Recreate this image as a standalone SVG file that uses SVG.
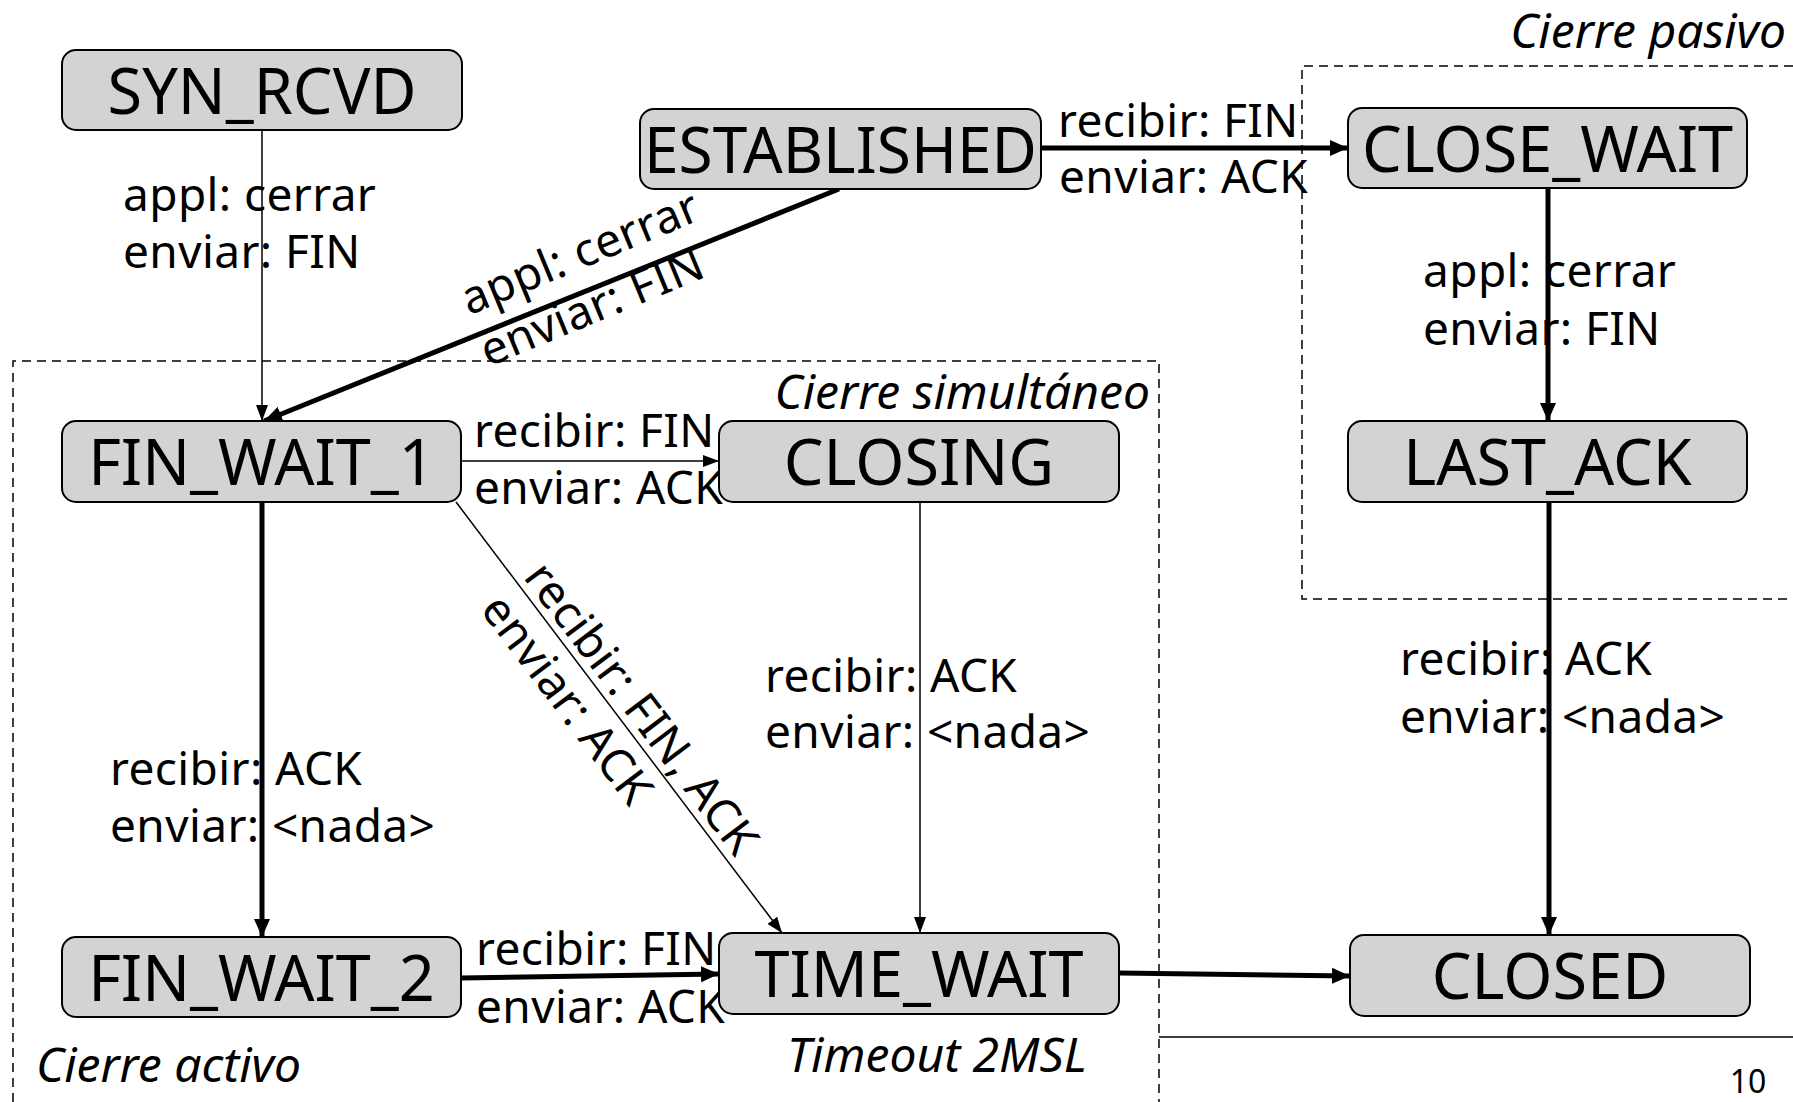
<svg xmlns="http://www.w3.org/2000/svg" width="1793" height="1102" viewBox="0 0 1793 1102">
<style>
  .box { fill: #d3d3d3; stroke: #000; stroke-width: 2; }
  .ntxt { font-family: "Noto Sans", "Open Sans", sans-serif; font-size: 63px; text-anchor: middle; fill: #000; }
  .lbl { font-family: "Noto Sans", "Open Sans", sans-serif; font-size: 46px; letter-spacing: 0.4px; fill: #000; }
  .ital { font-family: "Noto Sans", "Open Sans", sans-serif; font-size: 48px; font-style: italic; fill: #000; }
  .thick { stroke: #000; stroke-width: 5; fill: none; marker-end: url(#ahThick); }
  .thin { stroke: #000; stroke-width: 1.5; fill: none; marker-end: url(#ahThin); }
  .dash { stroke: #000; stroke-width: 1.5; fill: none; stroke-dasharray: 9 6; }
</style>
<defs>
  <marker id="ahThick" markerUnits="userSpaceOnUse" markerWidth="18" markerHeight="16" refX="18" refY="8" orient="auto">
    <path d="M0,0 L18,8 L0,16 z" fill="#000"/>
  </marker>
  <marker id="ahThin" markerUnits="userSpaceOnUse" markerWidth="16" markerHeight="12" refX="16" refY="6" orient="auto">
    <path d="M0,0 L16,6 L0,12 z" fill="#000"/>
  </marker>
</defs>
<rect width="1793" height="1102" fill="#fff"/>

<g id="regions">
  <path class="dash" d="M13,1102 V361 H1159 V1102"/>
  <path class="dash" d="M1793,66 H1302 V599 H1793"/>
  <line x1="1159" y1="1037" x2="1793" y2="1037" stroke="#000" stroke-width="1.5"/>
  <text class="ital" x="1786" y="48" text-anchor="end">Cierre pasivo</text>
  <text class="ital" x="1150" y="409" text-anchor="end">Cierre simultáneo</text>
  <text class="ital" x="36" y="1082">Cierre activo</text>
  <text class="ital" x="787" y="1072">Timeout 2MSL</text>
  <text x="1748" y="1093" text-anchor="middle" font-family="Noto Sans, sans-serif" font-size="32">10</text>
</g>

<g id="connectors">
  <line class="thin" x1="262" y1="130" x2="262" y2="421"/>
  <line class="thick" x1="839" y1="189" x2="264" y2="421"/>
  <line class="thick" x1="1041" y1="148" x2="1348" y2="148"/>
  <line class="thick" x1="1548" y1="188" x2="1548" y2="421"/>
  <line class="thin" x1="461" y1="461" x2="719" y2="461"/>
  <line class="thick" x1="262" y1="502" x2="262" y2="937"/>
  <line class="thin" x1="456" y1="502" x2="782" y2="933"/>
  <line class="thin" x1="920" y1="502" x2="920" y2="933"/>
  <line class="thick" x1="1549" y1="502" x2="1549" y2="935"/>
  <line class="thick" x1="461" y1="978" x2="719" y2="974"/>
  <line class="thick" x1="1119" y1="973" x2="1350" y2="976"/>

  <text class="lbl" x="123" y="211">appl: cerrar</text>
  <text class="lbl" x="123" y="268">enviar: FIN</text>

  <g transform="translate(477,335) rotate(-22.5)">
    <text class="lbl" x="0" y="-21">appl: cerrar</text>
    <text class="lbl" x="-2" y="34">enviar: FIN</text>
  </g>

  <text class="lbl" x="1058" y="137">recibir: FIN</text>
  <text class="lbl" x="1059" y="193">enviar: ACK</text>

  <text class="lbl" x="1423" y="287">appl: cerrar</text>
  <text class="lbl" x="1423" y="345">enviar: FIN</text>

  <text class="lbl" x="474" y="447">recibir: FIN</text>
  <text class="lbl" x="474" y="504">enviar: ACK</text>

  <text class="lbl" x="110" y="785">recibir: ACK</text>
  <text class="lbl" x="110" y="842">enviar: &lt;nada&gt;</text>

  <g transform="translate(516,582) rotate(52.86)">
    <text class="lbl" x="0" y="-8">recibir: FIN, ACK</text>
    <text class="lbl" x="0" y="46">enviar: ACK</text>
  </g>

  <text class="lbl" x="765" y="692">recibir: ACK</text>
  <text class="lbl" x="765" y="748">enviar: &lt;nada&gt;</text>

  <text class="lbl" x="1400" y="675">recibir: ACK</text>
  <text class="lbl" x="1400" y="733">enviar: &lt;nada&gt;</text>

  <text class="lbl" x="476" y="965">recibir: FIN</text>
  <text class="lbl" x="476" y="1023">enviar: ACK</text>
</g>

<g id="SYN_RCVD"><rect class="box" x="62" y="50" width="400" height="80" rx="14"/><text class="ntxt" x="262" y="114">SYN_RCVD</text></g>
<g id="ESTABLISHED"><rect class="box" x="640" y="109" width="401" height="80" rx="14"/><text class="ntxt" x="840.5" y="173" textLength="393" lengthAdjust="spacingAndGlyphs">ESTABLISHED</text></g>
<g id="CLOSE_WAIT"><rect class="box" x="1348" y="108" width="399" height="80" rx="14"/><text class="ntxt" x="1547.5" y="172">CLOSE_WAIT</text></g>
<g id="FIN_WAIT_1"><rect class="box" x="62" y="421" width="399" height="81" rx="14"/><text class="ntxt" x="261.5" y="485">FIN_WAIT_1</text></g>
<g id="CLOSING"><rect class="box" x="719" y="421" width="400" height="81" rx="14"/><text class="ntxt" x="919" y="485">CLOSING</text></g>
<g id="LAST_ACK"><rect class="box" x="1348" y="421" width="399" height="81" rx="14"/><text class="ntxt" x="1547.5" y="485">LAST_ACK</text></g>
<g id="FIN_WAIT_2"><rect class="box" x="62" y="937" width="399" height="80" rx="14"/><text class="ntxt" x="261.5" y="1001">FIN_WAIT_2</text></g>
<g id="TIME_WAIT"><rect class="box" x="719" y="933" width="400" height="81" rx="14"/><text class="ntxt" x="919" y="997">TIME_WAIT</text></g>
<g id="CLOSED"><rect class="box" x="1350" y="935" width="400" height="81" rx="14"/><text class="ntxt" x="1550" y="999">CLOSED</text></g>
</svg>
